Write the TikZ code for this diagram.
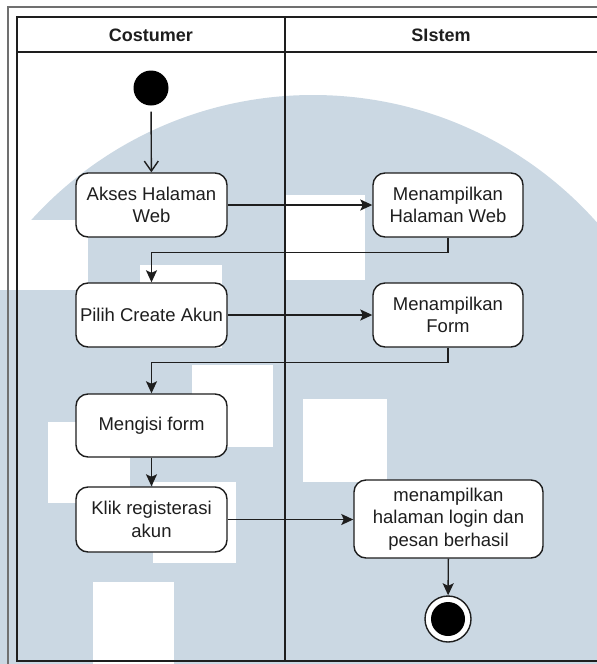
\documentclass[tikz,border=0pt]{standalone}
\usepackage{fontspec}
\setmainfont{Liberation Sans}
\usetikzlibrary{arrows.meta,calc}
\definecolor{wm}{HTML}{CBD8E3}
\definecolor{ink}{HTML}{1E1E1E}
\definecolor{framegray}{HTML}{707070}
\begin{document}
\begin{tikzpicture}[x=1pt,y=-1pt,
  act/.style={draw=ink, line width=1.4pt, fill=white, rounded corners=12pt,
    minimum width=151pt, minimum height=64pt, align=center, text=ink,
    font=\fontsize{18.5}{22.5}\selectfont, inner sep=2pt},
  flow/.style={draw=ink, line width=1.4pt, -{Stealth[length=12pt,width=11pt,inset=2.5pt]}},
  openflow/.style={draw=ink, line width=1.4pt, -{Straight Barb[length=10pt,width=14pt]}},
  lane/.style={draw=ink, line width=1.5pt},
  lanehead/.style={text=ink, font=\fontsize{18}{22}\selectfont\bfseries},
  square/.style={fill=white}
]
\useasboundingbox (0,0) rectangle (597,664);

% background logo: a large disc with white squares
\begin{scope}
  \clip (0,0) rectangle (597,664);
  \fill[wm] (313,475) circle[radius=380pt];
  \fill[square] (0,220) rectangle (88,290);
  \fill[square] (140,265) rectangle (222,348);
  \fill[square] (285,195) rectangle (365,280);
  \fill[square] (192,365) rectangle (273,447);
  \fill[square] (303,399) rectangle (387,482);
  \fill[square] (48,422) rectangle (130,503);
  \fill[square] (153,482) rectangle (236,563);
  \fill[square] (93,582) rectangle (174,664);
\end{scope}

% outer frame
\draw[framegray, line width=1.5pt] (8,664) -- (8,7) -- (600,7);

% swimlanes
\draw[lane] (17,17) rectangle (600,661);
\draw[lane] (17,52) -- (600,52);
\draw[lane] (285,17) -- (285,661);
\node[lanehead] (hcost) at (151,35) {Costumer};
\node[lanehead] (hsis) at (441,35) {SIstem};

% activities
\node[circle, fill=black, minimum size=35pt, inner sep=0pt] (start) at (151,88) {};
\node[act] (akses) at (151.5,205) {Akses Halaman\\Web};
\node[act, minimum width=150pt] (mhw) at (448,205) {Menampilkan\\Halaman Web};
\node[act] (pilih) at (151.5,315) {Pilih Create Akun};
\node[act, minimum width=150pt] (mform) at (448,315) {Menampilkan\\Form};
\node[act, minimum height=63pt] (mengisi) at (151.5,425.5) {Mengisi form};
\node[act, minimum height=65pt] (klik) at (151.5,519.5) {Klik registerasi\\akun};
\node[act, minimum width=189pt, minimum height=78pt] (final) at (448.5,519) {menampilkan\\halaman login dan\\pesan berhasil};
\node[circle, draw=ink, line width=1.4pt, fill=white, minimum size=46pt, inner sep=0pt] (end) at (448,619) {};
\node[circle, fill=black, minimum size=34pt, inner sep=0pt] (endcore) at (end.center) {};

% control flow
\draw[openflow, shorten <=6pt] (start) -- (akses);
\draw[flow] (akses) -- (akses -| mhw.west);
\draw[flow] (mhw.south) -- ++(0,15) -| (pilih.north);
\draw[flow] (pilih) -- (pilih -| mform.west);
\draw[flow] (mform.south) -- ++(0,15) -| (mengisi.north);
\draw[flow] (mengisi) -- (klik);
\draw[flow] (klik) -- (klik -| final.west);
\draw[flow] (final) -- (end);
\end{tikzpicture}
\end{document}
